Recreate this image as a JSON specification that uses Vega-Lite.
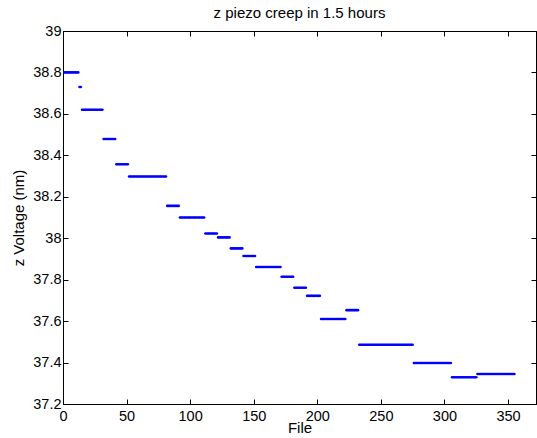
{
"$schema": "https://vega.github.io/schema/vega-lite/v6.json",
"autosize": "none",
"width": 473,
"height": 373,
"padding": {"left": 63, "top": 31, "right": 1, "bottom": 34},
"title": {"text": "z piezo creep in 1.5 hours", "font": "Liberation Sans", "fontSize": 15, "fontWeight": "normal", "color": "black", "offset": 2},
"config": {
  "view": {"stroke": "black", "strokeWidth": 1},
  "axis": {"grid": false, "domainColor": "black", "tickColor": "black", "labelColor": "black", "titleColor": "black", "labelFont": "Liberation Sans", "titleFont": "Liberation Sans", "labelFontSize": 14.5, "titleFontSize": 15, "titleFontWeight": "normal", "tickSize": -5, "labelFlush": false, "labelOverlap": false}
},
"data": {"values": [
{"file":1,"z":38.8},{"file":2,"z":38.8},{"file":3,"z":38.8},{"file":4,"z":38.8},{"file":5,"z":38.8},{"file":6,"z":38.8},{"file":7,"z":38.8},{"file":8,"z":38.8},{"file":9,"z":38.8},{"file":10,"z":38.8},{"file":11,"z":38.8},{"file":12,"z":38.8},
{"file":13,"z":38.73},{"file":14,"z":38.73},
{"file":15,"z":38.62},{"file":16,"z":38.62},{"file":17,"z":38.62},{"file":18,"z":38.62},{"file":19,"z":38.62},{"file":20,"z":38.62},{"file":21,"z":38.62},{"file":22,"z":38.62},{"file":23,"z":38.62},{"file":24,"z":38.62},{"file":25,"z":38.62},{"file":26,"z":38.62},{"file":27,"z":38.62},{"file":28,"z":38.62},{"file":29,"z":38.62},{"file":30,"z":38.62},{"file":31,"z":38.62},
{"file":32,"z":38.479},{"file":33,"z":38.479},{"file":34,"z":38.479},{"file":35,"z":38.479},{"file":36,"z":38.479},{"file":37,"z":38.479},{"file":38,"z":38.479},{"file":39,"z":38.479},{"file":40,"z":38.479},{"file":41,"z":38.479},
{"file":42,"z":38.357},{"file":43,"z":38.357},{"file":44,"z":38.357},{"file":45,"z":38.357},{"file":46,"z":38.357},{"file":47,"z":38.357},{"file":48,"z":38.357},{"file":49,"z":38.357},{"file":50,"z":38.357},{"file":51,"z":38.357},
{"file":52,"z":38.298},{"file":53,"z":38.298},{"file":54,"z":38.298},{"file":55,"z":38.298},{"file":56,"z":38.298},{"file":57,"z":38.298},{"file":58,"z":38.298},{"file":59,"z":38.298},{"file":60,"z":38.298},{"file":61,"z":38.298},{"file":62,"z":38.298},{"file":63,"z":38.298},{"file":64,"z":38.298},{"file":65,"z":38.298},{"file":66,"z":38.298},{"file":67,"z":38.298},{"file":68,"z":38.298},{"file":69,"z":38.298},{"file":70,"z":38.298},{"file":71,"z":38.298},{"file":72,"z":38.298},{"file":73,"z":38.298},{"file":74,"z":38.298},{"file":75,"z":38.298},{"file":76,"z":38.298},{"file":77,"z":38.298},{"file":78,"z":38.298},{"file":79,"z":38.298},{"file":80,"z":38.298},{"file":81,"z":38.298},
{"file":82,"z":38.156},{"file":83,"z":38.156},{"file":84,"z":38.156},{"file":85,"z":38.156},{"file":86,"z":38.156},{"file":87,"z":38.156},{"file":88,"z":38.156},{"file":89,"z":38.156},{"file":90,"z":38.156},{"file":91,"z":38.156},
{"file":92,"z":38.1},{"file":93,"z":38.1},{"file":94,"z":38.1},{"file":95,"z":38.1},{"file":96,"z":38.1},{"file":97,"z":38.1},{"file":98,"z":38.1},{"file":99,"z":38.1},{"file":100,"z":38.1},{"file":101,"z":38.1},{"file":102,"z":38.1},{"file":103,"z":38.1},{"file":104,"z":38.1},{"file":105,"z":38.1},{"file":106,"z":38.1},{"file":107,"z":38.1},{"file":108,"z":38.1},{"file":109,"z":38.1},{"file":110,"z":38.1},{"file":111,"z":38.1},
{"file":112,"z":38.023},{"file":113,"z":38.023},{"file":114,"z":38.023},{"file":115,"z":38.023},{"file":116,"z":38.023},{"file":117,"z":38.023},{"file":118,"z":38.023},{"file":119,"z":38.023},{"file":120,"z":38.023},{"file":121,"z":38.023},
{"file":122,"z":38.004},{"file":123,"z":38.004},{"file":124,"z":38.004},{"file":125,"z":38.004},{"file":126,"z":38.004},{"file":127,"z":38.004},{"file":128,"z":38.004},{"file":129,"z":38.004},{"file":130,"z":38.004},{"file":131,"z":38.004},
{"file":132,"z":37.951},{"file":133,"z":37.951},{"file":134,"z":37.951},{"file":135,"z":37.951},{"file":136,"z":37.951},{"file":137,"z":37.951},{"file":138,"z":37.951},{"file":139,"z":37.951},{"file":140,"z":37.951},{"file":141,"z":37.951},
{"file":142,"z":37.914},{"file":143,"z":37.914},{"file":144,"z":37.914},{"file":145,"z":37.914},{"file":146,"z":37.914},{"file":147,"z":37.914},{"file":148,"z":37.914},{"file":149,"z":37.914},{"file":150,"z":37.914},{"file":151,"z":37.914},
{"file":152,"z":37.861},{"file":153,"z":37.861},{"file":154,"z":37.861},{"file":155,"z":37.861},{"file":156,"z":37.861},{"file":157,"z":37.861},{"file":158,"z":37.861},{"file":159,"z":37.861},{"file":160,"z":37.861},{"file":161,"z":37.861},{"file":162,"z":37.861},{"file":163,"z":37.861},{"file":164,"z":37.861},{"file":165,"z":37.861},{"file":166,"z":37.861},{"file":167,"z":37.861},{"file":168,"z":37.861},{"file":169,"z":37.861},{"file":170,"z":37.861},{"file":171,"z":37.861},
{"file":172,"z":37.814},{"file":173,"z":37.814},{"file":174,"z":37.814},{"file":175,"z":37.814},{"file":176,"z":37.814},{"file":177,"z":37.814},{"file":178,"z":37.814},{"file":179,"z":37.814},{"file":180,"z":37.814},{"file":181,"z":37.814},
{"file":182,"z":37.761},{"file":183,"z":37.761},{"file":184,"z":37.761},{"file":185,"z":37.761},{"file":186,"z":37.761},{"file":187,"z":37.761},{"file":188,"z":37.761},{"file":189,"z":37.761},{"file":190,"z":37.761},{"file":191,"z":37.761},
{"file":192,"z":37.722},{"file":193,"z":37.722},{"file":194,"z":37.722},{"file":195,"z":37.722},{"file":196,"z":37.722},{"file":197,"z":37.722},{"file":198,"z":37.722},{"file":199,"z":37.722},{"file":200,"z":37.722},{"file":201,"z":37.722},{"file":202,"z":37.722},
{"file":203,"z":37.61},{"file":204,"z":37.61},{"file":205,"z":37.61},{"file":206,"z":37.61},{"file":207,"z":37.61},{"file":208,"z":37.61},{"file":209,"z":37.61},{"file":210,"z":37.61},{"file":211,"z":37.61},{"file":212,"z":37.61},{"file":213,"z":37.61},{"file":214,"z":37.61},{"file":215,"z":37.61},{"file":216,"z":37.61},{"file":217,"z":37.61},{"file":218,"z":37.61},{"file":219,"z":37.61},{"file":220,"z":37.61},{"file":221,"z":37.61},{"file":222,"z":37.61},
{"file":223,"z":37.653},{"file":224,"z":37.653},{"file":225,"z":37.653},{"file":226,"z":37.653},{"file":227,"z":37.653},{"file":228,"z":37.653},{"file":229,"z":37.653},{"file":230,"z":37.653},{"file":231,"z":37.653},{"file":232,"z":37.653},
{"file":233,"z":37.486},{"file":234,"z":37.486},{"file":235,"z":37.486},{"file":236,"z":37.486},{"file":237,"z":37.486},{"file":238,"z":37.486},{"file":239,"z":37.486},{"file":240,"z":37.486},{"file":241,"z":37.486},{"file":242,"z":37.486},{"file":243,"z":37.486},{"file":244,"z":37.486},{"file":245,"z":37.486},{"file":246,"z":37.486},{"file":247,"z":37.486},{"file":248,"z":37.486},{"file":249,"z":37.486},{"file":250,"z":37.486},{"file":251,"z":37.486},{"file":252,"z":37.486},{"file":253,"z":37.486},{"file":254,"z":37.486},{"file":255,"z":37.486},{"file":256,"z":37.486},{"file":257,"z":37.486},{"file":258,"z":37.486},{"file":259,"z":37.486},{"file":260,"z":37.486},{"file":261,"z":37.486},{"file":262,"z":37.486},{"file":263,"z":37.486},{"file":264,"z":37.486},{"file":265,"z":37.486},{"file":266,"z":37.486},{"file":267,"z":37.486},{"file":268,"z":37.486},{"file":269,"z":37.486},{"file":270,"z":37.486},{"file":271,"z":37.486},{"file":272,"z":37.486},{"file":273,"z":37.486},{"file":274,"z":37.486},{"file":275,"z":37.486},
{"file":276,"z":37.398},{"file":277,"z":37.398},{"file":278,"z":37.398},{"file":279,"z":37.398},{"file":280,"z":37.398},{"file":281,"z":37.398},{"file":282,"z":37.398},{"file":283,"z":37.398},{"file":284,"z":37.398},{"file":285,"z":37.398},{"file":286,"z":37.398},{"file":287,"z":37.398},{"file":288,"z":37.398},{"file":289,"z":37.398},{"file":290,"z":37.398},{"file":291,"z":37.398},{"file":292,"z":37.398},{"file":293,"z":37.398},{"file":294,"z":37.398},{"file":295,"z":37.398},{"file":296,"z":37.398},{"file":297,"z":37.398},{"file":298,"z":37.398},{"file":299,"z":37.398},{"file":300,"z":37.398},{"file":301,"z":37.398},{"file":302,"z":37.398},{"file":303,"z":37.398},{"file":304,"z":37.398},{"file":305,"z":37.398},
{"file":306,"z":37.329},{"file":307,"z":37.329},{"file":308,"z":37.329},{"file":309,"z":37.329},{"file":310,"z":37.329},{"file":311,"z":37.329},{"file":312,"z":37.329},{"file":313,"z":37.329},{"file":314,"z":37.329},{"file":315,"z":37.329},{"file":316,"z":37.329},{"file":317,"z":37.329},{"file":318,"z":37.329},{"file":319,"z":37.329},{"file":320,"z":37.329},{"file":321,"z":37.329},{"file":322,"z":37.329},{"file":323,"z":37.329},{"file":324,"z":37.329},{"file":325,"z":37.329},
{"file":326,"z":37.345},{"file":327,"z":37.345},{"file":328,"z":37.345},{"file":329,"z":37.345},{"file":330,"z":37.345},{"file":331,"z":37.345},{"file":332,"z":37.345},{"file":333,"z":37.345},{"file":334,"z":37.345},{"file":335,"z":37.345},{"file":336,"z":37.345},{"file":337,"z":37.345},{"file":338,"z":37.345},{"file":339,"z":37.345},{"file":340,"z":37.345},{"file":341,"z":37.345},{"file":342,"z":37.345},{"file":343,"z":37.345},{"file":344,"z":37.345},{"file":345,"z":37.345},{"file":346,"z":37.345},{"file":347,"z":37.345},{"file":348,"z":37.345},{"file":349,"z":37.345},{"file":350,"z":37.345},{"file":351,"z":37.345},{"file":352,"z":37.345},{"file":353,"z":37.345},{"file":354,"z":37.345},{"file":355,"z":37.345}
]},
"layer": [
  {
    "mark": {"type": "point", "filled": true, "size": 7, "color": "#0000ff", "opacity": 1, "shape": "circle"},
    "encoding": {
      "x": {"field": "file", "type": "quantitative", "scale": {"domain": [0, 372], "nice": false, "zero": false}, "axis": {"orient": "bottom", "title": "File", "values": [0,50,100,150,200,250,300,350], "labelPadding": 10, "titlePadding": -2}},
      "y": {"field": "z", "type": "quantitative", "scale": {"domain": [37.2, 39], "nice": false, "zero": false}, "axis": {"orient": "left", "title": "z Voltage (nm)", "values": [37.2,37.4,37.6,37.8,38,38.2,38.4,38.6,38.8,39], "format": "~g", "labelPadding": 7, "titlePadding": 6}}
    }
  },
  {
    "mark": {"type": "point", "opacity": 0},
    "encoding": {
      "x": {"field": "file", "type": "quantitative", "axis": {"orient": "top", "title": null, "labels": false, "values": [0,50,100,150,200,250,300,350]}},
      "y": {"field": "z", "type": "quantitative", "axis": {"orient": "right", "title": null, "labels": false, "values": [37.2,37.4,37.6,37.8,38,38.2,38.4,38.6,38.8,39]}}
    }
  }
],
"resolve": {"axis": {"x": "independent", "y": "independent"}}
}
